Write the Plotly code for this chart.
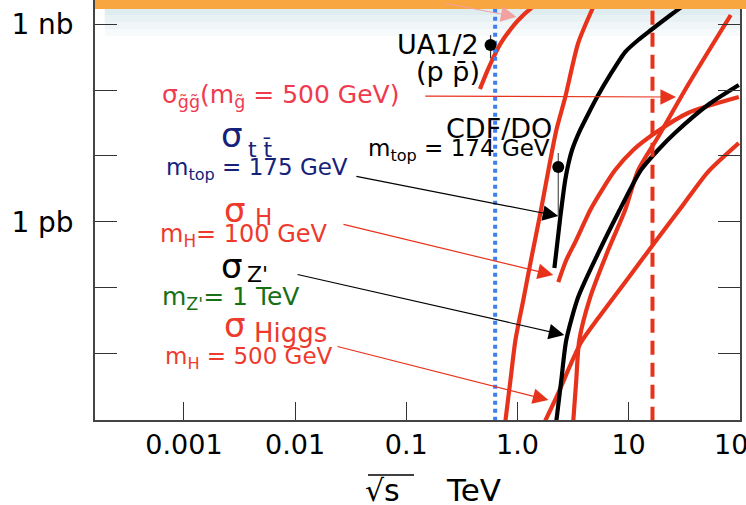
import math
import plotly.graph_objects as go

# ---------------- data (sqrt(s) in TeV, cross section in pb) ----------------
ua1_curve_x = [0.46, 0.53, 0.61, 0.70, 0.83, 1.02, 1.34, 1.71]
ua1_curve_y = [104, 188, 318, 500, 760, 1160, 1770, 2340]

long_red_x = [0.78, 0.865, 0.96, 1.13, 1.31, 1.61, 1.90, 2.24, 2.69, 3.52, 4.81]
long_red_y = [0.00095, 0.0039, 0.016, 0.065, 0.24, 1.36, 6.1, 24.8, 78, 520, 1830]

ttbar_x = [2.15, 2.43, 2.69, 2.87, 3.10, 3.67, 4.52, 5.33, 6.82, 9.30, 12.2, 15.9, 22.6, 32.1, 42.0]
ttbar_y = [0.198, 1.18, 4.30, 7.5, 12.3, 24.8, 49.9, 84.3, 170, 379, 577, 819, 1291, 1965, 2340]

higgs100_x = [2.33, 2.75, 3.38, 4.52, 5.91, 7.57, 11.0, 17.3, 34.2, 98.0]
higgs100_y = [0.121, 0.262, 0.527, 1.51, 3.25, 6.1, 12.3, 22.3, 44.9, 78.5]

zprime_x = [2.24, 2.48, 2.75, 3.52, 5.33, 8.05, 12.9, 18.4, 26.1, 51.6, 98.0]
zprime_y = [0.00095, 0.0039, 0.0159, 0.0717, 0.334, 1.36, 6.1, 12.3, 22.3, 59.4, 119.6]

gluino_x = [3.18, 3.38, 3.60, 4.52, 6.55, 9.30, 12.2, 18.4, 34.2, 83.0]
gluino_y = [0.00095, 0.0039, 0.0159, 0.0717, 0.371, 1.51, 6.1, 19.4, 119.6, 1384]

higgs500_x = [1.78, 2.33, 2.99, 3.75, 5.33, 9.90, 18.4, 30.8, 51.6, 98.0]
higgs500_y = [0.00095, 0.00249, 0.00664, 0.0149, 0.0344, 0.139, 0.565, 1.79, 5.69, 15.7]

# measured points
ua1_point_x = [0.573]
ua1_point_y = [484]
ua1_err_plus = [200]
ua1_err_minus = [180]
cdf_point_x = [2.33]
cdf_point_y = [6.78]
cdf_err_plus = [4.3]
cdf_err_minus = [5.6]

# vertical reference energies (TeV)
sppS_energy = 0.63
lhc_energy = 16.4
y_span = [0.00095, 2400]

# tick labels
x_tickvals = [0.001, 0.01, 0.1, 1, 10, 100]
x_ticktext = ["0.001", "0.01", "0.1", "1.0", "10", "100"]
y_tickvals = [0.01, 0.1, 1, 10, 100, 1000]
y_ticktext = ["", "", "1 pb", "", "", "1 nb"]

# arrows: tail -> head
arrow_tail_x = [0.1436, 0.0345, 0.0264, 0.0102, 0.0233, 0.217]
arrow_tail_y = [81.3, 4.95, 0.923, 0.160, 0.0129, 2110]
arrow_head_x = [26.7, 2.33, 2.10, 2.64, 1.90, 0.98]
arrow_head_y = [78.5, 1.22, 0.155, 0.0190, 0.00195, 1291]

RED = "#e8331c"
TXT_RED = "#ee3a2c"
PINK = "#f03a4e"
NAVY = "#14227a"
GREEN = "#167016"
BLACK = "#000000"
arrow_colors = [RED, BLACK, RED, BLACK, RED, "#f2a0a0"]

W, H = 746, 505
L, R, T, B = 95, 6, 0, 85
PW, PH = W - L - R, H - T - B


def px2paper(px, py):
    return (px - L) / PW, (H - B - py) / PH


fig = go.Figure()

# background gradient under top band
for (y0, y1, c) in [(8, 15, "#dfecf0"), (15, 22, "#e8f2f4"), (22, 29, "#f0f6f8"), (29, 36, "#f7fafb")]:
    _, p0 = px2paper(0, y1)
    _, p1 = px2paper(0, y0)
    fig.add_shape(type="rect", xref="paper", yref="paper", x0=0.015, x1=1, y0=p0, y1=p1,
                  fillcolor=c, line_width=0, layer="below")


def line(x, y, color, width=4.2, dash="solid"):
    fig.add_trace(go.Scatter(x=x, y=y, mode="lines",
                             line=dict(color=color, width=width, dash=dash, shape="spline", smoothing=0.7),
                             showlegend=False, hoverinfo="skip"))


line(ua1_curve_x, ua1_curve_y, RED)
line(long_red_x, long_red_y, RED)
line(higgs100_x, higgs100_y, RED)
line(gluino_x, gluino_y, RED)
line(higgs500_x, higgs500_y, RED)
line(zprime_x, zprime_y, BLACK)
line(ttbar_x, ttbar_y, BLACK)

# vertical lines
fig.add_trace(go.Scatter(x=[sppS_energy, sppS_energy], y=y_span, mode="lines",
                         line=dict(color="#3d7ff2", width=4, dash="dot"), showlegend=False, hoverinfo="skip"))
fig.add_trace(go.Scatter(x=[lhc_energy, lhc_energy], y=y_span, mode="lines",
                         line=dict(color=RED, width=4, dash="14px,8px"), showlegend=False, hoverinfo="skip"))

# measured points
fig.add_trace(go.Scatter(x=ua1_point_x, y=ua1_point_y, mode="markers",
                         marker=dict(color="black", size=12),
                         error_y=dict(type="data", symmetric=False, array=ua1_err_plus, arrayminus=ua1_err_minus,
                                      color="#333", thickness=1.2, width=0),
                         showlegend=False, hoverinfo="skip"))
fig.add_trace(go.Scatter(x=cdf_point_x, y=cdf_point_y, mode="markers",
                         marker=dict(color="black", size=12),
                         error_y=dict(type="data", symmetric=False, array=cdf_err_plus, arrayminus=cdf_err_minus,
                                      color="#555", thickness=1.2, width=0),
                         showlegend=False, hoverinfo="skip"))

# arrows
for tx, ty, hx, hy, c in zip(arrow_tail_x, arrow_tail_y, arrow_head_x, arrow_head_y, arrow_colors):
    fig.add_annotation(x=math.log10(hx), y=math.log10(hy), ax=math.log10(tx), ay=math.log10(ty),
                       xref="x", yref="y", axref="x", ayref="y", text="", showarrow=True,
                       arrowhead=2, arrowsize=2.6, arrowwidth=1.2, arrowcolor=c, standoff=0, startstandoff=0)

FONT = "DejaVu Sans"
labels = [
    ("σ<sub>g̃g̃</sub>(m<sub>g̃</sub> = 500 GeV)", 160, 96, 25, PINK),
    ("σ", 219, 135, 34, NAVY),
    ("t t̄", 246, 150, 22, NAVY),
    ("m<sub>top</sub> = 175 GeV", 164, 169, 23, NAVY),
    ("CDF/DO", 444, 128, 27, BLACK),
    ("m<sub>top</sub> = 174 GeV", 366, 150, 23, BLACK),
    ("UA1/2", 395, 45, 27, BLACK),
    ("(p p̄)", 414, 72, 27, BLACK),
    ("σ", 222, 210, 34, TXT_RED),
    ("H", 253, 217, 23, TXT_RED),
    ("m<sub>H</sub>= 100 GeV", 158, 235, 24, TXT_RED),
    ("σ", 219, 266, 34, BLACK),
    ("Z'", 245, 274, 22, BLACK),
    ("m<sub>Z'</sub>= 1 TeV", 160, 298, 25, GREEN),
    ("σ", 222, 325, 34, TXT_RED),
    ("Higgs", 252, 333, 26, TXT_RED),
    ("m<sub>H</sub> = 500 GeV", 163, 358, 23, TXT_RED),
]
for text, px, py, size, color in labels:
    xp, yp = px2paper(px, py)
    fig.add_annotation(x=xp, y=yp, xref="paper", yref="paper", text=text, showarrow=False,
                       xanchor="left", yanchor="middle", font=dict(family=FONT, size=size, color=color))

# x axis title: sqrt(s) and unit
for text, px, size in [("√s", 363, 30), ("TeV", 444, 31)]:
    xp, yp = px2paper(px, 490)
    fig.add_annotation(x=xp, y=yp, xref="paper", yref="paper", text=text, showarrow=False,
                       xanchor="left", yanchor="middle", font=dict(family=FONT, size=size, color="black"))
x0, y0 = px2paper(368, 475)
x1, _ = px2paper(414, 475)
fig.add_shape(type="line", xref="paper", yref="paper", x0=x0, x1=x1, y0=y0, y1=y0,
              line=dict(color="black", width=1.5))

# orange top band
_, yb = px2paper(0, 9)
fig.add_shape(type="rect", xref="paper", yref="paper", x0=0, x1=(W - L) / PW, y0=yb, y1=1.0,
              fillcolor="#f8a640", line_width=0, layer="above")

fig.update_layout(
    template="none",
    width=W, height=H,
    margin=dict(l=L, r=R, t=T, b=B, pad=0, autoexpand=False),
    paper_bgcolor="white", plot_bgcolor="white",
    font=dict(family=FONT, color="black"),
    xaxis=dict(type="log", range=[-3.80, 2.002], tickvals=x_tickvals, ticktext=x_ticktext,
               ticks="inside", ticklen=18, tickwidth=1.3, tickcolor="#333", automargin=False,
               showline=True, linecolor="#444", linewidth=1.5, showgrid=False, zeroline=False,
               ticklabeloverflow="allow",
               tickfont=dict(family=FONT, size=27, color="black"), ticklabelstandoff=0),
    yaxis=dict(type="log", range=[-3.012, 3.369], tickvals=y_tickvals, ticktext=y_ticktext,
               ticks="inside", ticklen=22, tickwidth=1.3, tickcolor="#333", mirror="ticks", automargin=False,
               showline=True, linecolor="#444", linewidth=1.5, showgrid=False, zeroline=False,
               tickfont=dict(family=FONT, size=28, color="black"), ticklabelstandoff=14),
)

fig.write_html("out.html", config={"displayModeBar": False},
               post_script="document.body.style.margin='0';document.body.style.padding='0';document.body.style.overflow='hidden';")
